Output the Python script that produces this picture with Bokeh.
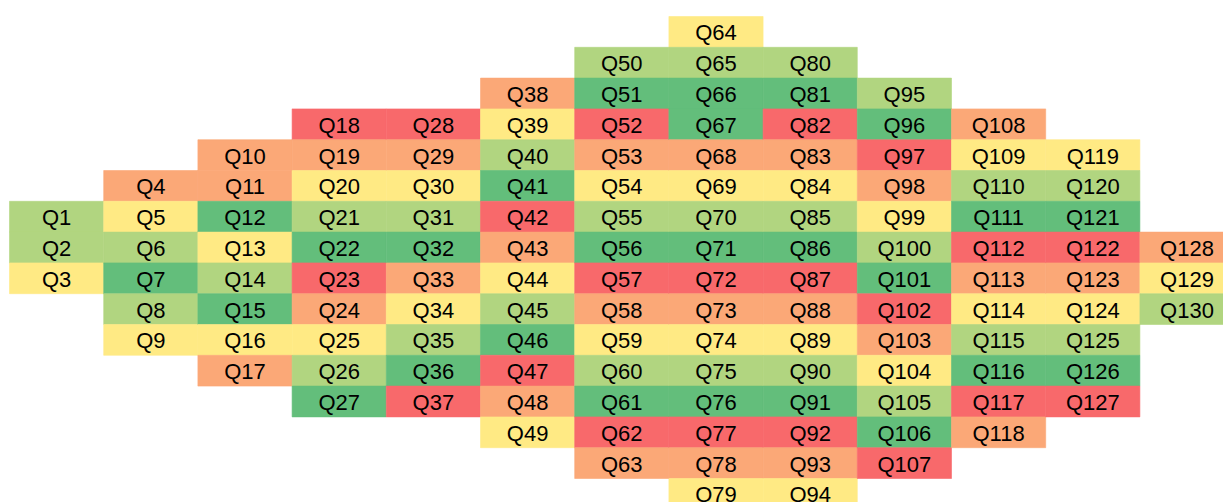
from bokeh.plotting import figure
from bokeh.models import ColumnDataSource, Range1d
from bokeh.core.properties import value
from bokeh.embed import file_html
from bokeh.resources import INLINE

# Column layout: first row index (0 = top) and number of questions per column
col_first_row = [6, 5, 4, 3, 3, 2, 1, 0, 1, 2, 3, 4, 7]
col_counts = [3, 6, 8, 10, 10, 12, 14, 16, 15, 13, 11, 9, 3]

# Score for each question Q1..Q130 (1 = worst/red ... 5 = best/green)
scores = [
    4, 4, 3,
    2, 3, 4, 5, 4, 3,
    2, 2, 5, 3, 4, 5, 3, 2,
    1, 2, 3, 4, 5, 1, 2, 3, 4, 5,
    1, 2, 3, 4, 5, 2, 3, 4, 5, 1,
    2, 3, 4, 5, 1, 2, 3, 4, 5, 1, 2, 3,
    4, 5, 1, 2, 3, 4, 5, 1, 2, 3, 4, 5, 1, 2,
    3, 4, 5, 5, 2, 3, 4, 5, 1, 2, 3, 4, 5, 1, 2, 3,
    4, 5, 1, 2, 3, 4, 5, 1, 2, 3, 4, 5, 1, 2, 3,
    4, 5, 1, 2, 3, 4, 5, 1, 2, 3, 4, 5, 1,
    2, 3, 4, 5, 1, 2, 3, 4, 5, 1, 2,
    3, 4, 5, 1, 2, 3, 4, 5, 1,
    2, 3, 4,
]

palette = {1: "#F8696B", 2: "#FBA877", 3: "#FFEA84", 4: "#B1D580", 5: "#63BE7B"}

xs, ys, labels, colors = [], [], [], []
q = 0
for c, (r0, n) in enumerate(zip(col_first_row, col_counts)):
    for k in range(n):
        xs.append(c + 0.5)
        ys.append(r0 + k + 0.5)
        labels.append(f"Q{q + 1}")
        colors.append(palette[scores[q]])
        q += 1

src = ColumnDataSource(dict(x=xs, y=ys, label=labels, color=colors))

W, H = 1223, 502
colw, rowh = 94.2, 30.8
x0 = -9.0 / colw
y0 = -16.0 / rowh
p = figure(width=W, height=H, output_backend="svg", toolbar_location=None,
           x_range=Range1d(x0, x0 + W / colw),
           y_range=Range1d(y0 + H / rowh, y0),
           min_border=0, min_border_left=0, min_border_right=0,
           min_border_top=0, min_border_bottom=0)
p.axis.visible = False
p.grid.visible = False
p.outline_line_color = None
p.background_fill_color = "white"
p.border_fill_color = "white"

p.rect(x="x", y="y", width=1, height=1, source=src, fill_color="color",
       line_color="color", line_width=0.6)
p.text(x="x", y="y", text="label", source=src, text_align="center",
       text_baseline="middle", text_font=value("Liberation Sans"),
       text_font_size="22px", text_color="black", y_offset=1)

open("out.html", "w").write(file_html(p, INLINE))
